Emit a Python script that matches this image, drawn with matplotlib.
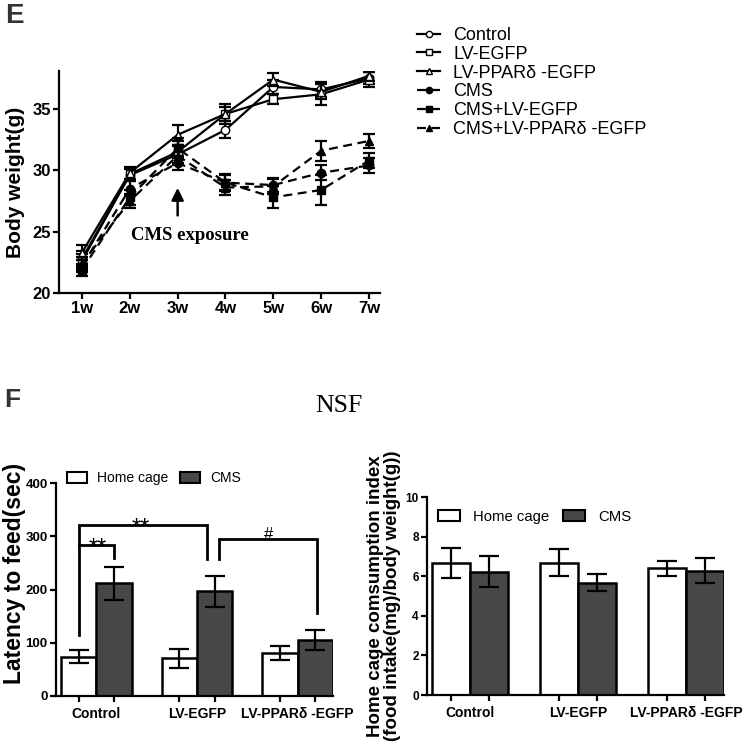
import matplotlib
matplotlib.use("Agg")
import matplotlib.pyplot as plt
import numpy as np
from matplotlib.patches import Patch

plt.rcParams['font.family'] = ['Liberation Sans', 'DejaVu Sans']

# ---------------- data: panel E ----------------
weeks = ['1w', '2w', '3w', '4w', '5w', '6w', '7w']
groups_e = ['Control', 'LV-EGFP', 'LV-PPARδ -EGFP', 'CMS', 'CMS+LV-EGFP', 'CMS+LV-PPARδ -EGFP']
control_mean = [22.8, 29.6, 31.3, 33.3, 36.8, 36.6, 37.5]
control_err = [0.6, 0.5, 0.8, 0.7, 0.6, 0.6, 0.5]
lvegfp_mean = [22.6, 29.7, 31.5, 34.6, 35.8, 36.2, 37.4]
lvegfp_err = [0.6, 0.5, 0.9, 0.8, 0.4, 0.9, 0.6]
lvppar_mean = [23.3, 29.8, 32.9, 34.6, 37.4, 36.4, 37.7]
lvppar_err = [0.6, 0.5, 0.8, 0.6, 0.5, 0.6, 0.4]
cms_mean = [22.2, 28.5, 30.6, 29.0, 28.8, 29.8, 30.4]
cms_err = [0.5, 0.6, 0.6, 0.6, 0.6, 0.6, 0.6]
cmsegfp_mean = [21.9, 27.8, 31.8, 29.0, 27.8, 28.4, 30.8]
cmsegfp_err = [0.5, 0.6, 0.8, 0.7, 0.9, 1.2, 0.6]
cmsppar_mean = [22.4, 27.5, 31.2, 28.6, 28.7, 31.6, 32.4]
cmsppar_err = [0.5, 0.6, 0.8, 0.6, 0.6, 0.8, 0.6]

# ---------------- data: panel F ----------------
cond = ['Control', 'LV-EGFP', 'LV-PPARδ -EGFP']
latency_home = [74, 71, 80]
latency_home_err = [12.5, 18, 13]
latency_cms = [212, 197, 105]
latency_cms_err = [31, 29, 18.5]
intake_home = [6.67, 6.69, 6.40]
intake_home_err = [0.76, 0.68, 0.39]
intake_cms = [6.22, 5.66, 6.27]
intake_cms_err = [0.78, 0.43, 0.63]

fig = plt.figure(figsize=(7.43, 7.43), dpi=100)
W = H = 743.0

def ax_px(l, t, r, b):
    return fig.add_axes([l / W, 1 - b / H, (r - l) / W, (b - t) / H])

def style(ax, ls=10):
    for s in ['top', 'right']:
        ax.spines[s].set_visible(False)
    for s in ['left', 'bottom']:
        ax.spines[s].set_linewidth(1.6)
    ax.tick_params(width=1.6, length=4, direction='out', labelsize=ls, pad=2)
    for lab in ax.get_xticklabels() + ax.get_yticklabels():
        lab.set_fontweight('bold')

# ---------------- Panel E ----------------
ax = ax_px(59, 71, 380, 293)
x = np.arange(1, 8)
series = [
    (control_mean, control_err, 'o', 'white', '-', groups_e[0]),
    (lvegfp_mean, lvegfp_err, 's', 'white', '-', groups_e[1]),
    (lvppar_mean, lvppar_err, '^', 'white', '-', groups_e[2]),
    (cms_mean, cms_err, 'o', 'black', '--', groups_e[3]),
    (cmsegfp_mean, cmsegfp_err, 's', 'black', '--', groups_e[4]),
    (cmsppar_mean, cmsppar_err, '^', 'black', '--', groups_e[5]),
]
handles = []
for m, e, mk, fc, ls, lab in series:
    ax.errorbar(x, m, yerr=e, color='black', ecolor='black', elinewidth=1.6,
                capsize=4.5, capthick=1.6, linestyle='none')
    kw = dict(dashes=(4, 2.5)) if ls == '--' else {}
    h, = ax.plot(x, m, color='black', linestyle=ls, linewidth=1.6, marker=mk,
                 markersize=6, markerfacecolor=fc, markeredgecolor='black',
                 markeredgewidth=1.0, label=lab, **kw)
    handles.append(h)
ax.set_xlim(0.52, 7.23)
ax.set_ylim(20, 38.1)
ax.set_xticks(x)
ax.set_xticklabels(weeks)
ax.set_yticks([20, 25, 30, 35])
ax.set_ylabel('Body weight(g)', fontsize=15, fontweight='bold', labelpad=5)
style(ax, ls=12)
ax.annotate('', xy=(3, 28.8), xytext=(3, 26.1),
            arrowprops=dict(arrowstyle='-|>', color='black', lw=1.8, mutation_scale=18))
ax.text(3.26, 24.7, 'CMS exposure', fontsize=13.5, fontweight='bold',
        family=['Liberation Serif', 'DejaVu Serif'], ha='center', va='center')

fig.legend(handles=handles, loc='upper left', bbox_to_anchor=(417 / W, 1 - 27 / H),
           frameon=False, fontsize=13, handlelength=1.28, handletextpad=0.72,
           labelspacing=0.1, borderaxespad=0, borderpad=0, markerscale=0.75)

fig.text(5 / W, 1 - 3 / H, 'E', fontsize=20, fontweight='bold', color='#333333',
         ha='left', va='top')
fig.text(4 / W, 1 - 388 / H, 'F', fontsize=19, fontweight='bold', color='#333333',
         ha='left', va='top')
fig.text(339 / W, 1 - 395 / H, 'NSF', fontsize=18.5,
         family=['Liberation Serif', 'DejaVu Serif'], ha='center', va='top')

dark = '#474747'
bw = 0.35
g = np.arange(3)

def bar_panel(ax, home, home_e, cms, cms_e, capsize, yls):
    ax.bar(g - bw / 2, home, width=bw, color='white', edgecolor='black', linewidth=1.8)
    ax.bar(g + bw / 2, cms, width=bw, color=dark, edgecolor='black', linewidth=1.8)
    ax.errorbar(g - bw / 2, home, yerr=home_e, fmt='none', ecolor='black',
                elinewidth=1.6, capsize=capsize, capthick=1.6)
    ax.errorbar(g + bw / 2, cms, yerr=cms_e, fmt='none', ecolor='black',
                elinewidth=1.6, capsize=capsize, capthick=1.6)
    ax.set_xticks(np.concatenate([g - bw / 2, g + bw / 2]))
    ax.set_xticklabels([])
    ax.set_xticks(g, minor=True)
    ax.set_xticklabels(cond, minor=True)
    style(ax, ls=yls)
    ax.tick_params(axis='x', which='minor', length=0, pad=8, labelsize=10)
    for lab in ax.get_xticklabels(minor=True):
        lab.set_fontweight('bold')
    ax.set_xlim(-0.40, 2.35)

# ---------------- Panel F left ----------------
axl = ax_px(56, 483, 333, 696)
bar_panel(axl, latency_home, latency_home_err, latency_cms, latency_cms_err, 7, 9.5)
axl.set_ylim(0, 400)
axl.set_yticks([0, 100, 200, 300, 400])
for lab in axl.get_yticklabels():
    lab.set_fontweight('bold')
axl.set_ylabel('Latency to feed(sec)', fontsize=16.5, fontweight='bold')
axl.yaxis.set_label_coords(-0.108, 0.577)
lh = [Patch(facecolor='white', edgecolor='black', linewidth=1.5, label='Home cage'),
      Patch(facecolor=dark, edgecolor='black', linewidth=1.5, label='CMS')]
axl.legend(handles=lh, loc='upper left', bbox_to_anchor=(11 / 277, 1.055), ncol=2,
           frameon=False, fontsize=10, handlelength=1.44, handleheight=0.8,
           handletextpad=0.72, columnspacing=0.86, borderaxespad=0, borderpad=0)
# significance brackets
lw_b = 2.0
axl.plot([-0.175, -0.175, 1.10, 1.10], [114, 322, 322, 258], color='black', lw=lw_b,
         solid_joinstyle='miter')
axl.plot([-0.175, 0.175, 0.175], [283, 283, 260], color='black', lw=lw_b,
         solid_joinstyle='miter')
axl.plot([1.22, 1.22, 2.195, 2.195], [258, 294, 294, 156], color='black', lw=lw_b,
         solid_joinstyle='miter')
axl.text(0.44, 304, '**', fontsize=17, ha='center', va='baseline')
axl.text(0.01, 265, '**', fontsize=17, ha='center', va='baseline')
axl.text(1.71, 289, '#', fontsize=12, ha='center', va='bottom')

# ---------------- Panel F right ----------------
axr = ax_px(427, 497, 724, 695)
bar_panel(axr, intake_home, intake_home_err, intake_cms, intake_cms_err, 7, 8.5)
axr.set_ylim(0, 10)
axr.set_yticks([0, 2, 4, 6, 8, 10])
for lab in axr.get_yticklabels():
    lab.set_fontweight('bold')
axr.set_ylabel('Home cage comsumption index\n(food intake(mg)/body weight(g))',
               fontsize=13.5, fontweight='bold', labelpad=3, linespacing=1.0)
axr.legend(handles=lh, loc='upper left', bbox_to_anchor=(11 / 297, 0.935), ncol=2,
           frameon=False, fontsize=10.7, handlelength=1.5, handleheight=0.75,
           handletextpad=0.85, columnspacing=0.95, borderaxespad=0, borderpad=0)

fig.savefig("out.png", dpi=100)
